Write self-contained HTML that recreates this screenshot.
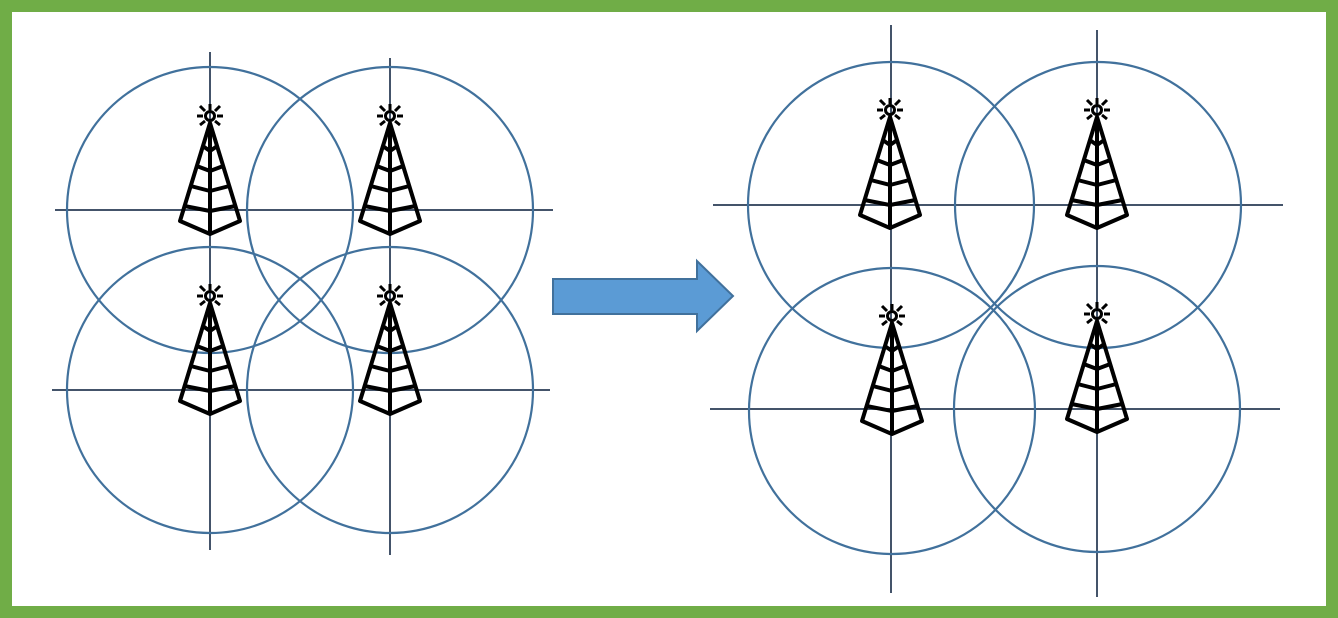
<!DOCTYPE html>
<html><head><style>html,body{margin:0;padding:0;background:#fff}svg{display:block}</style></head>
<body>
<svg width="1338" height="618" viewBox="0 0 1338 618" xmlns="http://www.w3.org/2000/svg">
<defs>
<g id="t" fill="none" stroke="#000" stroke-width="4" stroke-linejoin="round">
<circle cx="0" cy="0" r="4.5" stroke-width="3"/>
<path d="M-7 0H-13M7 0H13M0 -6V-12M-5 -5L-10 -10M5 -5L10 -10M-5 5L-10 9M5 5L10 9" stroke-width="3"/>
<path d="M0 7L-30 105L0 118L30 105Z M0 7V118"/>
<path d="M-7.3 30L0 35L7.3 30 M-13.3 50L0 55L13.3 50 M-19.4 70L0 75L19.4 70 M-25.5 90L0 95L25.5 90"/>
</g>
</defs>
<rect x="6" y="6" width="1326" height="606" fill="#fff" stroke="#70ad47" stroke-width="12"/>
<g stroke="#44546a" stroke-width="2">
<line x1="55" y1="210" x2="553" y2="210"/><line x1="52" y1="390" x2="550" y2="390"/>
<line x1="210" y1="52" x2="210" y2="550"/><line x1="390" y1="58" x2="390" y2="555"/>
<line x1="713" y1="205" x2="1283" y2="205"/><line x1="710" y1="409" x2="1280" y2="409"/>
<line x1="891" y1="25" x2="891" y2="593"/><line x1="1097" y1="30" x2="1097" y2="597"/>
</g>
<g fill="none" stroke="#41719c" stroke-width="2.2">
<circle cx="210" cy="210" r="143"/><circle cx="390" cy="210" r="143"/>
<circle cx="210" cy="390" r="143"/><circle cx="390" cy="390" r="143"/>
<circle cx="891" cy="205" r="143"/><circle cx="1098" cy="205" r="143"/>
<circle cx="892" cy="411" r="143"/><circle cx="1097" cy="409" r="143"/>
</g>
<use href="#t" x="210" y="116"/><use href="#t" x="390" y="116"/>
<use href="#t" x="210" y="296"/><use href="#t" x="390" y="296"/>
<use href="#t" x="890" y="110"/><use href="#t" x="1097" y="110"/>
<use href="#t" x="892" y="316"/><use href="#t" x="1097" y="314"/>
<path d="M553 279H697V261L733 296L697 331V314H553Z" fill="#5b9bd5" stroke="#41719c" stroke-width="2"/>
</svg>
</body></html>
